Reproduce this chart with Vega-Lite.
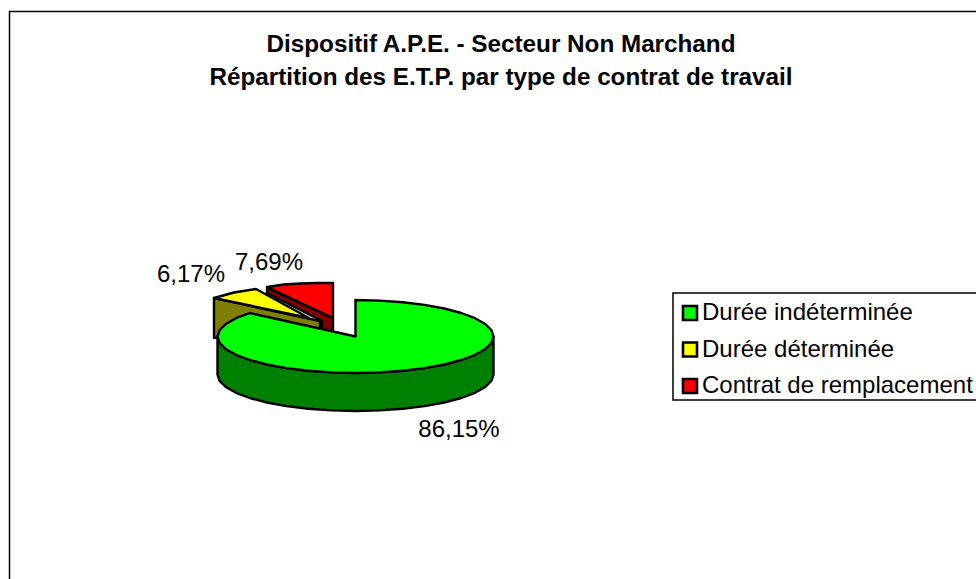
{"$schema":"https://vega.github.io/schema/vega-lite/v6.json","width":976,"height":579,"autosize":{"type":"none"},"padding":0,"background":"white","view":{"stroke":null},
"title":{"text":["Dispositif A.P.E. - Secteur Non Marchand","Répartition des E.T.P. par type de contrat de travail"],"font":"Liberation Sans","fontSize":24.25,"fontWeight":"bold","color":"black","anchor":"middle","lineHeight":33,"baseline":"top","dx":13,"dy":90,"offset":0},
"datasets":{"pie":[
{"face":"sideOlive","i":1,"x":-141.5,"y":38.5},{"face":"sideOlive","i":2,"x":-35.5,"y":15.5},{"face":"sideOlive","i":3,"x":-35.5,"y":8.5},{"face":"sideOlive","i":4,"x":-141.5,"y":-1.5},
{"face":"sideRed","i":1,"x":-88.5,"y":48.5},{"face":"sideRed","i":2,"x":-88.5,"y":43.5},{"face":"sideRed","i":3,"x":-33.5,"y":15.5},{"face":"sideRed","i":4,"x":-33.5,"y":6.5},{"face":"sideRed","i":5,"x":-22.5,"y":5.5},{"face":"sideRed","i":6,"x":-22.5,"y":18.5},
{"face":"sideGreen","i":1,"x":-138,"y":0},{"face":"sideGreen","i":2,"x":-135.9,"y":-6.3},{"face":"sideGreen","i":3,"x":-129.7,"y":-12.5},{"face":"sideGreen","i":4,"x":-119.5,"y":-18.3},{"face":"sideGreen","i":5,"x":-105.7,"y":-23.5},{"face":"sideGreen","i":6,"x":-88.7,"y":-28},{"face":"sideGreen","i":7,"x":-69,"y":-31.6},{"face":"sideGreen","i":8,"x":-47.2,"y":-34.3},{"face":"sideGreen","i":9,"x":-24,"y":-35.9},{"face":"sideGreen","i":10,"x":0,"y":-36.5},{"face":"sideGreen","i":11,"x":24,"y":-35.9},{"face":"sideGreen","i":12,"x":47.2,"y":-34.3},{"face":"sideGreen","i":13,"x":69,"y":-31.6},{"face":"sideGreen","i":14,"x":88.7,"y":-28},{"face":"sideGreen","i":15,"x":105.7,"y":-23.5},{"face":"sideGreen","i":16,"x":119.5,"y":-18.3},{"face":"sideGreen","i":17,"x":129.7,"y":-12.5},{"face":"sideGreen","i":18,"x":135.9,"y":-6.3},{"face":"sideGreen","i":19,"x":138,"y":0},
{"face":"sideGreen","i":20,"x":138,"y":-38},{"face":"sideGreen","i":21,"x":135.9,"y":-44.3},{"face":"sideGreen","i":22,"x":129.7,"y":-50.5},{"face":"sideGreen","i":23,"x":119.5,"y":-56.3},{"face":"sideGreen","i":24,"x":105.7,"y":-61.5},{"face":"sideGreen","i":25,"x":88.7,"y":-66},{"face":"sideGreen","i":26,"x":69,"y":-69.6},{"face":"sideGreen","i":27,"x":47.2,"y":-72.3},{"face":"sideGreen","i":28,"x":24,"y":-73.9},{"face":"sideGreen","i":29,"x":0,"y":-74.5},{"face":"sideGreen","i":30,"x":-24,"y":-73.9},{"face":"sideGreen","i":31,"x":-47.2,"y":-72.3},{"face":"sideGreen","i":32,"x":-69,"y":-69.6},{"face":"sideGreen","i":33,"x":-88.7,"y":-66},{"face":"sideGreen","i":34,"x":-105.7,"y":-61.5},{"face":"sideGreen","i":35,"x":-119.5,"y":-56.3},{"face":"sideGreen","i":36,"x":-129.7,"y":-50.5},{"face":"sideGreen","i":37,"x":-135.9,"y":-44.3},{"face":"sideGreen","i":38,"x":-138,"y":-38},
{"face":"top","contrat":"Durée déterminée","i":1,"x":-141.5,"y":38.5},{"face":"top","contrat":"Durée déterminée","i":2,"x":-121.5,"y":44},{"face":"top","contrat":"Durée déterminée","i":3,"x":-99.5,"y":47.5},{"face":"top","contrat":"Durée déterminée","i":4,"x":-46.5,"y":18.5},
{"face":"top","contrat":"Contrat de remplacement","i":1,"x":-88.5,"y":49.5},{"face":"top","contrat":"Contrat de remplacement","i":2,"x":-71.5,"y":52},{"face":"top","contrat":"Contrat de remplacement","i":3,"x":-55.5,"y":53},{"face":"top","contrat":"Contrat de remplacement","i":4,"x":-38.5,"y":53.5},{"face":"top","contrat":"Contrat de remplacement","i":5,"x":-22.5,"y":53.5},{"face":"top","contrat":"Contrat de remplacement","i":6,"x":-22.5,"y":18.5},
{"face":"top","contrat":"Durée indéterminée","i":1,"x":-105.7,"y":23.5},{"face":"top","contrat":"Durée indéterminée","i":2,"x":-119.5,"y":18.3},{"face":"top","contrat":"Durée indéterminée","i":3,"x":-129.7,"y":12.5},{"face":"top","contrat":"Durée indéterminée","i":4,"x":-135.9,"y":6.3},{"face":"top","contrat":"Durée indéterminée","i":5,"x":-138,"y":0},{"face":"top","contrat":"Durée indéterminée","i":6,"x":-135.9,"y":-6.3},{"face":"top","contrat":"Durée indéterminée","i":7,"x":-129.7,"y":-12.5},{"face":"top","contrat":"Durée indéterminée","i":8,"x":-119.5,"y":-18.3},{"face":"top","contrat":"Durée indéterminée","i":9,"x":-105.7,"y":-23.5},{"face":"top","contrat":"Durée indéterminée","i":10,"x":-88.7,"y":-28},{"face":"top","contrat":"Durée indéterminée","i":11,"x":-69,"y":-31.6},{"face":"top","contrat":"Durée indéterminée","i":12,"x":-47.2,"y":-34.3},{"face":"top","contrat":"Durée indéterminée","i":13,"x":-24,"y":-35.9},{"face":"top","contrat":"Durée indéterminée","i":14,"x":0,"y":-36.5},{"face":"top","contrat":"Durée indéterminée","i":15,"x":24,"y":-35.9},{"face":"top","contrat":"Durée indéterminée","i":16,"x":47.2,"y":-34.3},{"face":"top","contrat":"Durée indéterminée","i":17,"x":69,"y":-31.6},{"face":"top","contrat":"Durée indéterminée","i":18,"x":88.7,"y":-28},{"face":"top","contrat":"Durée indéterminée","i":19,"x":105.7,"y":-23.5},{"face":"top","contrat":"Durée indéterminée","i":20,"x":119.5,"y":-18.3},{"face":"top","contrat":"Durée indéterminée","i":21,"x":129.7,"y":-12.5},{"face":"top","contrat":"Durée indéterminée","i":22,"x":135.9,"y":-6.3},{"face":"top","contrat":"Durée indéterminée","i":23,"x":138,"y":0},{"face":"top","contrat":"Durée indéterminée","i":24,"x":135.9,"y":6.3},{"face":"top","contrat":"Durée indéterminée","i":25,"x":129.7,"y":12.5},{"face":"top","contrat":"Durée indéterminée","i":26,"x":119.5,"y":18.3},{"face":"top","contrat":"Durée indéterminée","i":27,"x":105.7,"y":23.5},{"face":"top","contrat":"Durée indéterminée","i":28,"x":88.7,"y":28},{"face":"top","contrat":"Durée indéterminée","i":29,"x":69,"y":31.6},{"face":"top","contrat":"Durée indéterminée","i":30,"x":47.2,"y":34.3},{"face":"top","contrat":"Durée indéterminée","i":31,"x":24,"y":35.9},{"face":"top","contrat":"Durée indéterminée","i":32,"x":0,"y":36.5},{"face":"top","contrat":"Durée indéterminée","i":33,"x":0,"y":0}
]},
"layer":[
{"data":{"values":[{"x":-346,"y":325,"x2":700,"y2":-300},{"x":317.5,"y":43.5,"x2":700,"y2":-63.5}]},"mark":{"type":"rect","fill":null,"stroke":"black","strokeWidth":1.5},"encoding":{"x":{"field":"x","type":"quantitative","axis":null,"scale":{"domain":[-355.5,620.5],"nice":false,"zero":false}},"x2":{"field":"x2"},"y":{"field":"y","type":"quantitative","axis":null,"scale":{"domain":[-242.5,336.5],"nice":false,"zero":false}},"y2":{"field":"y2"}}},
{"data":{"name":"pie"},"transform":[{"filter":"datum.face==='sideOlive'"}],"mark":{"type":"line","interpolate":"linear-closed","fill":"#808000","stroke":"black","strokeWidth":2.4,"strokeJoin":"round"},"encoding":{"x":{"field":"x","type":"quantitative"},"y":{"field":"y","type":"quantitative"},"order":{"field":"i"}}},
{"data":{"name":"pie"},"transform":[{"filter":"datum.face==='sideRed'"}],"mark":{"type":"line","interpolate":"linear-closed","fill":"#800000","stroke":"black","strokeWidth":2.4,"strokeJoin":"round"},"encoding":{"x":{"field":"x","type":"quantitative"},"y":{"field":"y","type":"quantitative"},"order":{"field":"i"}}},
{"data":{"name":"pie"},"transform":[{"filter":"datum.face==='sideGreen'"}],"mark":{"type":"line","interpolate":"linear-closed","fill":"#008000","stroke":"black","strokeWidth":2.4,"strokeJoin":"round"},"encoding":{"x":{"field":"x","type":"quantitative"},"y":{"field":"y","type":"quantitative"},"order":{"field":"i"}}},
{"data":{"name":"pie"},"transform":[{"filter":"datum.face==='top'"}],"mark":{"type":"line","interpolate":"linear-closed","stroke":"black","strokeWidth":2.4,"strokeJoin":"round"},"encoding":{"x":{"field":"x","type":"quantitative"},"y":{"field":"y","type":"quantitative"},"order":{"field":"i"},"fill":{"field":"contrat","type":"nominal","scale":{"domain":["Durée indéterminée","Durée déterminée","Contrat de remplacement"],"range":["#00FF00","#FFFF00","#FF0000"]},"legend":{"title":null,"orient":"none","legendX":673,"legendY":296,"padding":5,"symbolType":"square","symbolSize":196,"symbolStrokeColor":"black","symbolStrokeWidth":2.6,"labelFont":"Liberation Sans","labelFontSize":24,"labelColor":"black","rowPadding":10.5,"labelOffset":0,"labelLimit":400}}}},
{"data":{"values":[{"contrat":"Durée indéterminée","part":"86,15%","x":103.5,"y":-93},{"contrat":"Durée déterminée","part":"6,17%","x":-164.5,"y":61.5},{"contrat":"Contrat de remplacement","part":"7,69%","x":-86.5,"y":73.5}]},"mark":{"type":"text","font":"Liberation Sans","fontSize":24,"color":"black","align":"center","baseline":"middle"},"encoding":{"x":{"field":"x","type":"quantitative"},"y":{"field":"y","type":"quantitative"},"text":{"field":"part"}}}
]}
